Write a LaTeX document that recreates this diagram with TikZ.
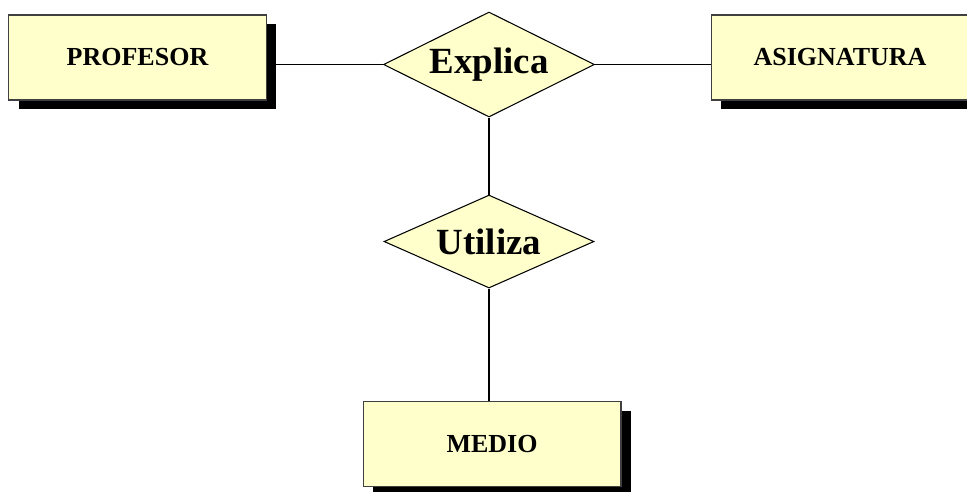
\documentclass[tikz,border=0pt]{standalone}
\usepackage{fontspec}
\setmainfont{Liberation Serif}
\usepackage{tikz}
\usetikzlibrary{positioning,shapes.geometric,shadows}
\definecolor{erfill}{HTML}{FFFFCC}

\begin{document}
\begin{tikzpicture}[x=0.02cm, y=-0.02cm,
    EN/.style={rectangle, draw=black!75, fill=erfill, line width=0.6pt,
      font=\fontsize{14.8pt}{16pt}\selectfont\bfseries, align=center,
      minimum width=5.16cm, minimum height=1.7cm, inner sep=0pt,
      drop shadow={shadow xshift=0.2cm, shadow yshift=-0.18cm,
        fill=black, opacity=1}},
    RL/.style={diamond, aspect=2, draw=black, fill=erfill, line width=0.6pt,
      font=\fontsize{21pt}{24pt}\selectfont\bfseries, inner sep=0pt},
    ln/.style={line width=0.6pt, color=black}
  ]
    \useasboundingbox (0,0) rectangle (967,491);

    %% Entidades
    \node[EN] (prof) at (137.5,57.5) {PROFESOR};
    \node[EN] (asig) at (840,57.5) {ASIGNATURA};
    \node[EN] (medio) at (492,444) {MEDIO};

    %% Relaciones
    \node[RL, minimum width=4.22cm, minimum height=2.1cm] (expl) at (489,64.5) {Explica};
    \node[RL, minimum width=4.2cm, minimum height=1.86cm, below=1.54cm of expl] (util) {Utiliza};

    %% Lineas
    \draw[ln] (expl.west) -- (expl.west -| prof.east);
    \draw[ln] (expl.east) -- (expl.east -| asig.west);
    \draw[ln] (expl.south) -- (util.north);
    \draw[ln] (util.south) -- (util.south |- medio.north);
  \end{tikzpicture}
\end{document}
